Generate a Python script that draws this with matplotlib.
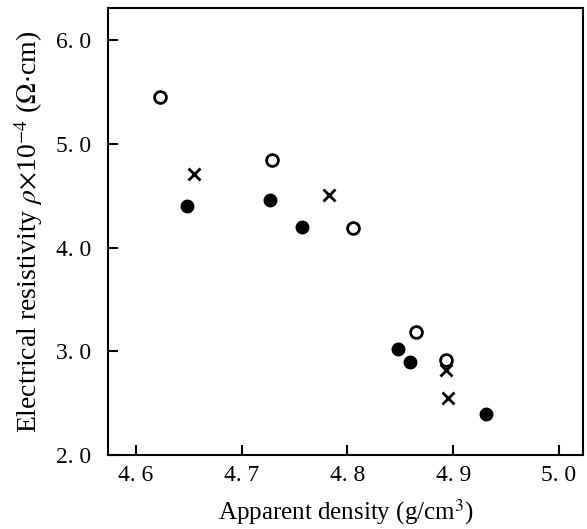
import matplotlib.pyplot as plt

# Apparent density (g/cm3) and resistivity (x10^-4 ohm cm)
open_x = [4.623, 4.729, 4.805, 4.865, 4.893]
open_y = [5.45, 4.84, 4.19, 3.19, 2.92]

filled_x = [4.648, 4.727, 4.757, 4.848, 4.859, 4.931]
filled_y = [4.40, 4.46, 4.20, 3.02, 2.90, 2.39]

cross_x = [4.655, 4.783, 4.893, 4.895]
cross_y = [4.71, 4.51, 2.82, 2.55]

xticks = [4.6, 4.7, 4.8, 4.9, 5.0]
yticks = [2.0, 3.0, 4.0, 5.0, 6.0]

plt.rcParams['font.family'] = ['Liberation Serif', 'DejaVu Serif']
plt.rcParams['mathtext.fontset'] = 'stix'

fig = plt.figure(figsize=(5.87, 5.29), dpi=100)
ax = fig.add_axes([0.184, 0.140, 0.809, 0.845])

ax.plot(open_x, open_y, 'o', ms=8.5, mfc='white', mec='black', mew=2)
ax.plot(filled_x, filled_y, 'o', ms=9, mfc='black', mec='black')
ax.plot(cross_x, cross_y, 'x', ms=8, mec='black', mew=2)

ax.set_xlim(4.5735, 5.0227)
ax.set_ylim(2.0, 6.31)
ax.set_xticks(xticks)
ax.set_xticklabels([f'{v:.1f}'.replace('.', '. ') for v in xticks])
ax.set_yticks(yticks)
ax.set_yticklabels([f'{v:.1f}'.replace('.', '. ') for v in yticks])
ax.tick_params(direction='in', length=7, width=1.5, labelsize=17, colors='black')
ax.tick_params(axis='x', pad=7)
ax.tick_params(axis='y', pad=12)
for s in ax.spines.values():
    s.set_linewidth(1.5)

ax.set_xlabel('Apparent density (g/cm$^3$)', fontsize=18, labelpad=8)
ax.set_ylabel(r'Electrical resistivity $\rho$$\times$10$^{-4}$ ($\Omega$$\cdot$cm)', fontsize=20, labelpad=8)

fig.savefig('out.png', dpi=100)
